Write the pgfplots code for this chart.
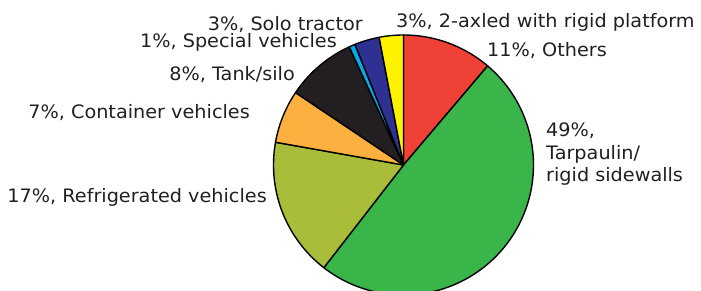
\documentclass[border=0pt]{standalone}
\usepackage{pgfplots}
\pgfplotsset{compat=1.18}
\usepackage{fontspec}
\setmainfont{DejaVu Sans}[FakeStretch=1.04]
\definecolor{cOthers}{HTML}{EF4136}
\definecolor{cTarp}{HTML}{39B54A}
\definecolor{cRefr}{HTML}{A9BD3A}
\definecolor{cCont}{HTML}{FBB040}
\definecolor{cTank}{HTML}{231F20}
\definecolor{cSpec}{HTML}{00AEEF}
\definecolor{cSolo}{HTML}{2E3192}
\definecolor{cAxle}{HTML}{FFF200}
\definecolor{txt}{HTML}{231F20}
\tikzset{lbl/.style={text=txt, font=\fontsize{18.5bp}{22bp}\selectfont, inner sep=0pt}}
% slice: #1 cumulative start (%), #2 cumulative end (%), #3 colour
\newcommand{\slice}[3]{%
  \addplot[draw=black, line width=1.4pt, line join=round, fill=#3,
    domain={90-3.6*(#2)}:{90-3.6*(#1)}, samples=90]
    ({130*cos(x)},{130*sin(x)}) -- (axis cs:0,0) -- cycle;}
\begin{document}
\begin{tikzpicture}
\begin{axis}[
  width=701bp, height=291bp, scale only axis,
  xmin=-403.5, xmax=297.5, ymin=-126, ymax=165,
  hide axis, clip mode=individual,
]
% shares (%): Others 11.2, Tarpaulin 49.3, Refrigerated 17.3, Container 6.6,
% Tank/silo 8.75, Special 0.75, Solo tractor 3.1, 2-axled 3.0
\slice{0}{11.2}{cOthers}
\slice{11.2}{60.5}{cTarp}
\slice{60.5}{77.8}{cRefr}
\slice{77.8}{84.4}{cCont}
\slice{84.4}{93.15}{cTank}
\slice{93.15}{93.9}{cSpec}
\slice{93.9}{97.0}{cSolo}
\slice{97.0}{100}{cAxle}
\node[lbl, anchor=base east] at (axis cs:-40.5,134) {3\%, Solo tractor};
\node[lbl, anchor=base east] at (axis cs:-66.5,117) {1\%, Special vehicles};
\node[lbl, anchor=base east] at (axis cs:-108.5,84) {8\%, Tank/silo};
\node[lbl, anchor=base east] at (axis cs:-153.5,46) {7\%, Container vehicles};
\node[lbl, anchor=base east] at (axis cs:-136.5,-38) {17\%, Refrigerated vehicles};
\node[lbl, anchor=base west] at (axis cs:-7.5,137) {3\%, 2-axled with rigid platform};
\node[lbl, anchor=base west] at (axis cs:83.5,108) {11\%, Others};
\node[lbl, anchor=base west] at (axis cs:142.5,28) {49\%,};
\node[lbl, anchor=base west] at (axis cs:142.5,5) {Tarpaulin/};
\node[lbl, anchor=base west] at (axis cs:142.5,-17) {rigid sidewalls};
\end{axis}
\pgfresetboundingbox
\path (current axis.south west) rectangle (current axis.north east);
\end{tikzpicture}
\end{document}
